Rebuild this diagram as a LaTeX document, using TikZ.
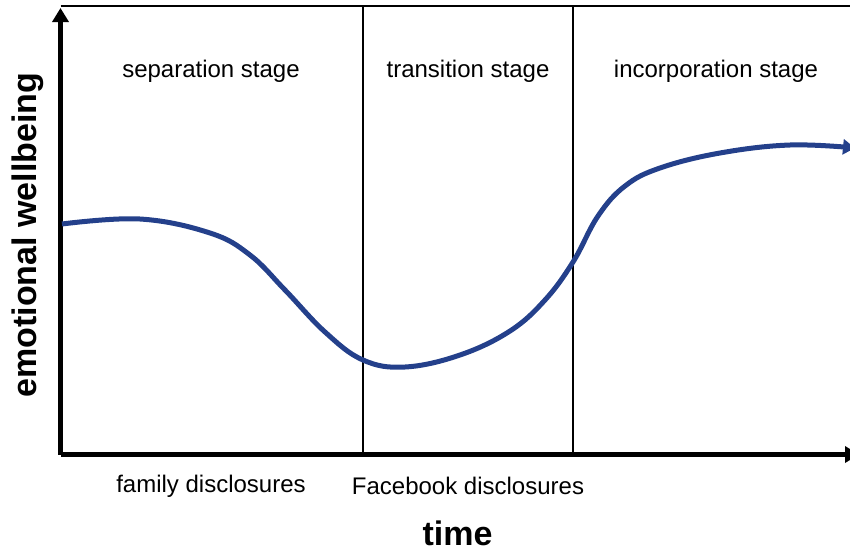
\documentclass[tikz,border=0pt]{standalone}
\usepackage{fontspec}
\setmainfont{Liberation Sans}
\usetikzlibrary{arrows.meta}
\definecolor{curveblue}{RGB}{36,64,139}

\begin{document}
\begin{tikzpicture}[x=1pt,y=-1pt,
	axis/.style={line width=5pt,black,-{Triangle[length=14pt,width=16pt]}},
	divider/.style={line width=1.8pt,black},
	stage/.style={font=\fontsize{24}{28}\selectfont},
	big/.style={font=\fontsize{34}{40}\selectfont\bfseries}]
		\useasboundingbox (0,0) rectangle (850,554);
		\path (60.5,454.5) coordinate(o)
		(60.5,8) coordinate(ytop)
		(859,454.5) coordinate(xend)
		(60.5,6) coordinate(tl)
		(850,6) coordinate(tr)
		(363,6) coordinate(d1t) (363,454.5) coordinate(d1b)
		(573,6) coordinate(d2t) (573,454.5) coordinate(d2b);
		\draw[line width=2pt] (tl) -- (tr);
		\draw[divider] (d1t) -- (d1b);
		\draw[divider] (d2t) -- (d2b);
		\draw[axis] (o) -- (ytop);
		\draw[axis] (o) -- (xend);
		% wellbeing over time
		\draw[line width=5pt,curveblue,-{Triangle[length=12pt,width=15pt]}] plot[smooth,tension=0.65] coordinates {
			(62,224) (140,219) (210,233) (250,255) (285,290)
			(325,332) (363,360) (405,367) (460,355) (510,331) (545,300)
			(573,262) (598,216) (625,186) (660,168) (720,153)
			(790,145) (855,148)};
		\node[stage] (sep) at (211,71) {separation stage};
		\node[stage] (tra) at (468,71) {transition stage};
		\node[stage] (inc) at (716,71) {incorporation stage};
		\node[stage] (fam) at (211,486) {family disclosures};
		\node[stage] (fb) at (468,486) {Facebook disclosures};
		\node[big,anchor=base,inner sep=0pt] (time) at (457.5,545) {time};
		\node[big,rotate=90] (ew) at (28,235) {emotional wellbeing};
\end{tikzpicture}
\end{document}
